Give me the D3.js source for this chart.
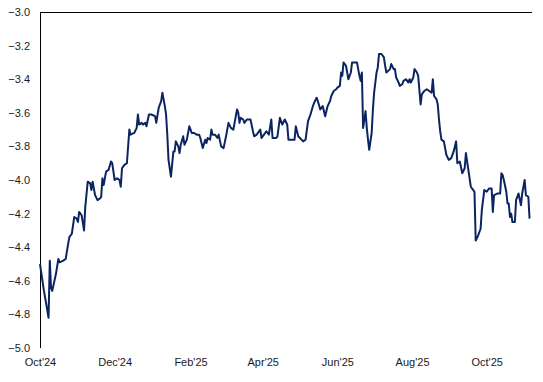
<!DOCTYPE html>
<meta charset="utf-8">
<style>
    body { margin: 0; background: #fff; }
    .tick-label { font-family: "Liberation Sans", Arial, sans-serif; font-size: 11px; fill: #1a1a1a; }
    .series { fill: none; stroke: #0c2461; stroke-width: 2; stroke-linejoin: round; }
</style>
<body>
<script src="https://cdn.jsdelivr.net/npm/d3@7"></script>
<div id="chart"></div>
<script>
    // values
    var dates = [
        "2024-10-01","2024-10-04","2024-10-08","2024-10-09","2024-10-10","2024-10-11","2024-10-14","2024-10-16","2024-10-17","2024-10-20",
        "2024-10-22","2024-10-24","2024-10-25","2024-10-27","2024-10-29","2024-10-31","2024-11-01","2024-11-02","2024-11-04","2024-11-06",
        "2024-11-07","2024-11-09","2024-11-11","2024-11-12","2024-11-13","2024-11-15","2024-11-17","2024-11-19","2024-11-20","2024-11-21",
        "2024-11-22","2024-11-24","2024-11-26","2024-11-28","2024-11-29","2024-12-01","2024-12-03","2024-12-05","2024-12-06","2024-12-07",
        "2024-12-09","2024-12-11","2024-12-13","2024-12-14","2024-12-17","2024-12-19","2024-12-20","2024-12-21","2024-12-23","2024-12-24",
        "2024-12-26","2024-12-27","2024-12-29","2024-12-31","2025-01-03","2025-01-04","2025-01-06","2025-01-08","2025-01-09","2025-01-11",
        "2025-01-12","2025-01-13","2025-01-14","2025-01-16","2025-01-18","2025-01-19","2025-01-20","2025-01-22","2025-01-23","2025-01-24",
        "2025-01-26","2025-01-27","2025-01-29","2025-01-31","2025-02-02","2025-02-04","2025-02-06","2025-02-08","2025-02-09","2025-02-11",
        "2025-02-13","2025-02-14","2025-02-15","2025-02-17","2025-02-18","2025-02-19","2025-02-21","2025-02-23","2025-02-24","2025-02-26",
        "2025-02-28","2025-03-02","2025-03-04","2025-03-06","2025-03-08","2025-03-10","2025-03-11","2025-03-12","2025-03-13","2025-03-14",
        "2025-03-16","2025-03-17","2025-03-19","2025-03-22","2025-03-24","2025-03-25","2025-03-27","2025-03-30","2025-03-31","2025-04-02",
        "2025-04-04","2025-04-06","2025-04-08","2025-04-09","2025-04-12","2025-04-13","2025-04-15","2025-04-17","2025-04-19","2025-04-21",
        "2025-04-22","2025-04-26","2025-04-27","2025-04-28","2025-04-30","2025-05-04","2025-05-06","2025-05-08","2025-05-10","2025-05-12",
        "2025-05-13","2025-05-15","2025-05-16","2025-05-18","2025-05-20","2025-05-22","2025-05-24","2025-05-26","2025-05-27","2025-05-29",
        "2025-05-31","2025-06-01","2025-06-03","2025-06-04","2025-06-05","2025-06-06","2025-06-08","2025-06-09","2025-06-10","2025-06-12",
        "2025-06-13","2025-06-15","2025-06-17","2025-06-19","2025-06-20","2025-06-21","2025-06-22","2025-06-23","2025-06-24","2025-06-25",
        "2025-06-26","2025-06-27","2025-06-29","2025-06-30","2025-07-01","2025-07-03","2025-07-04","2025-07-05","2025-07-07","2025-07-09",
        "2025-07-10","2025-07-11","2025-07-14","2025-07-15","2025-07-17","2025-07-18","2025-07-19","2025-07-21","2025-07-22","2025-07-24",
        "2025-07-25","2025-07-27","2025-07-29","2025-07-30","2025-07-31","2025-08-02","2025-08-03","2025-08-05","2025-08-06","2025-08-08",
        "2025-08-09","2025-08-11","2025-08-13","2025-08-15","2025-08-17","2025-08-18","2025-08-19","2025-08-21","2025-08-22","2025-08-23",
        "2025-08-24","2025-08-25","2025-08-27","2025-08-29","2025-08-31","2025-09-02","2025-09-04","2025-09-06","2025-09-07","2025-09-09",
        "2025-09-11","2025-09-13","2025-09-14","2025-09-16","2025-09-18","2025-09-20","2025-09-21","2025-09-22","2025-09-24","2025-09-26",
        "2025-09-27","2025-09-29","2025-10-01","2025-10-03","2025-10-05","2025-10-06","2025-10-07","2025-10-10","2025-10-12","2025-10-13",
        "2025-10-14","2025-10-15","2025-10-17","2025-10-18","2025-10-19","2025-10-20","2025-10-21","2025-10-22","2025-10-24","2025-10-25",
        "2025-10-27","2025-10-29","2025-10-30","2025-11-01","2025-11-02","2025-11-04","2025-11-05"
    ];

    var values = [
        -4.50,-4.65,-4.82,-4.48,-4.64,-4.66,-4.56,-4.47,-4.49,-4.48,
        -4.47,-4.38,-4.34,-4.32,-4.22,-4.23,-4.25,-4.19,-4.21,-4.30,
        -4.16,-4.01,-4.02,-4.06,-4.01,-4.09,-4.12,-4.11,-4.10,-3.99,
        -4.03,-3.95,-3.94,-3.89,-3.90,-4.00,-3.99,-4.00,-4.04,-3.93,
        -3.91,-3.90,-3.70,-3.73,-3.72,-3.69,-3.61,-3.67,-3.66,-3.67,
        -3.66,-3.68,-3.61,-3.61,-3.62,-3.66,-3.57,-3.53,-3.48,-3.56,
        -3.61,-3.73,-3.88,-3.98,-3.83,-3.83,-3.77,-3.80,-3.84,-3.79,
        -3.74,-3.79,-3.76,-3.68,-3.72,-3.72,-3.73,-3.73,-3.75,-3.81,
        -3.76,-3.78,-3.75,-3.76,-3.70,-3.73,-3.73,-3.75,-3.73,-3.80,
        -3.81,-3.74,-3.66,-3.69,-3.70,-3.62,-3.58,-3.60,-3.66,-3.63,
        -3.64,-3.66,-3.64,-3.64,-3.71,-3.74,-3.73,-3.70,-3.75,-3.73,
        -3.71,-3.73,-3.64,-3.75,-3.75,-3.74,-3.63,-3.67,-3.64,-3.67,
        -3.76,-3.76,-3.76,-3.68,-3.74,-3.77,-3.76,-3.65,-3.61,-3.56,
        -3.54,-3.51,-3.53,-3.58,-3.56,-3.62,-3.56,-3.53,-3.50,-3.47,
        -3.46,-3.45,-3.44,-3.36,-3.38,-3.30,-3.32,-3.36,-3.40,-3.36,
        -3.30,-3.30,-3.30,-3.38,-3.41,-3.36,-3.69,-3.64,-3.59,-3.69,
        -3.76,-3.82,-3.72,-3.58,-3.48,-3.36,-3.33,-3.25,-3.25,-3.27,
        -3.32,-3.36,-3.34,-3.31,-3.34,-3.34,-3.39,-3.42,-3.44,-3.43,
        -3.41,-3.40,-3.42,-3.40,-3.42,-3.39,-3.34,-3.36,-3.38,-3.55,
        -3.49,-3.47,-3.46,-3.47,-3.48,-3.40,-3.50,-3.52,-3.55,-3.64,
        -3.71,-3.76,-3.77,-3.85,-3.88,-3.87,-3.83,-3.77,-3.90,-3.89,
        -3.96,-3.93,-3.84,-3.94,-4.04,-4.06,-4.07,-4.36,-4.33,-4.29,
        -4.18,-4.06,-4.07,-4.05,-4.05,-4.19,-4.09,-4.08,-4.08,-3.96,
        -3.97,-4.00,-4.07,-4.14,-4.14,-4.22,-4.20,-4.25,-4.25,-4.12,
        -4.08,-4.15,-4.08,-4.00,-4.09,-4.10,-4.23
    ];

    var yTicks = [-3.0, -3.2, -3.4, -3.6, -3.8, -4.0, -4.2, -4.4, -4.6, -4.8, -5.0];
    var xTickLabels = ["Oct'24", "Dec'24", "Feb'25", "Apr'25", "Jun'25", "Aug'25", "Oct'25"];
    var xTickDates = ["2024-10-01", "2024-12-01", "2025-02-01", "2025-04-01", "2025-06-01", "2025-08-01", "2025-10-01"];

    var width = 543, height = 382;
    var parse = d3.utcParse("%Y-%m-%d");

    var data = dates.map(function(d, i) { return {date: parse(d), value: values[i]}; });

    var svg = d3.select("#chart").append("svg")
        .attr("width", width)
        .attr("height", height);

    var x = d3.scaleUtc()
        .domain([parse("2024-10-01"), parse("2025-11-07")])
        .range([40, 532]);

    var y = d3.scaleLinear()
        .domain([-5.0, -3.0])
        .range([348, 12]);

    // y axis: labels only, plus the vertical line
    var yAxis = svg.append("g")
        .attr("transform", "translate(40,0)")
        .call(d3.axisLeft(y).tickValues(yTicks).tickFormat(d3.format(".1f")).tickSize(0).tickPadding(10));
    yAxis.select(".domain").attr("stroke", "#000").attr("d", "M0.5," + y(-3.0) + "V" + y(-5.0));
    yAxis.selectAll("text").attr("class", "tick-label").attr("font-size", null).attr("font-family", null);

    // category axis line sits at the top (crosses at -3.0), labels low
    svg.append("line")
        .attr("x1", 40).attr("x2", x.range()[1])
        .attr("y1", y(-3.0) + 0.5).attr("y2", y(-3.0) + 0.5)
        .attr("stroke", "#000");

    var xAxis = svg.append("g")
        .attr("transform", "translate(0," + y(-5.0) + ")")
        .call(d3.axisBottom(x)
            .tickValues(xTickDates.map(parse))
            .tickFormat(function(d, i) { return xTickLabels[i]; })
            .tickSize(0).tickPadding(10));
    xAxis.select(".domain").remove();
    xAxis.selectAll("text").attr("class", "tick-label").attr("font-size", null).attr("font-family", null);

    var line = d3.line()
        .x(function(d) { return x(d.date); })
        .y(function(d) { return y(d.value); });

    svg.append("path")
        .datum(data)
        .attr("class", "series")
        .attr("d", line);
</script>
</body>
